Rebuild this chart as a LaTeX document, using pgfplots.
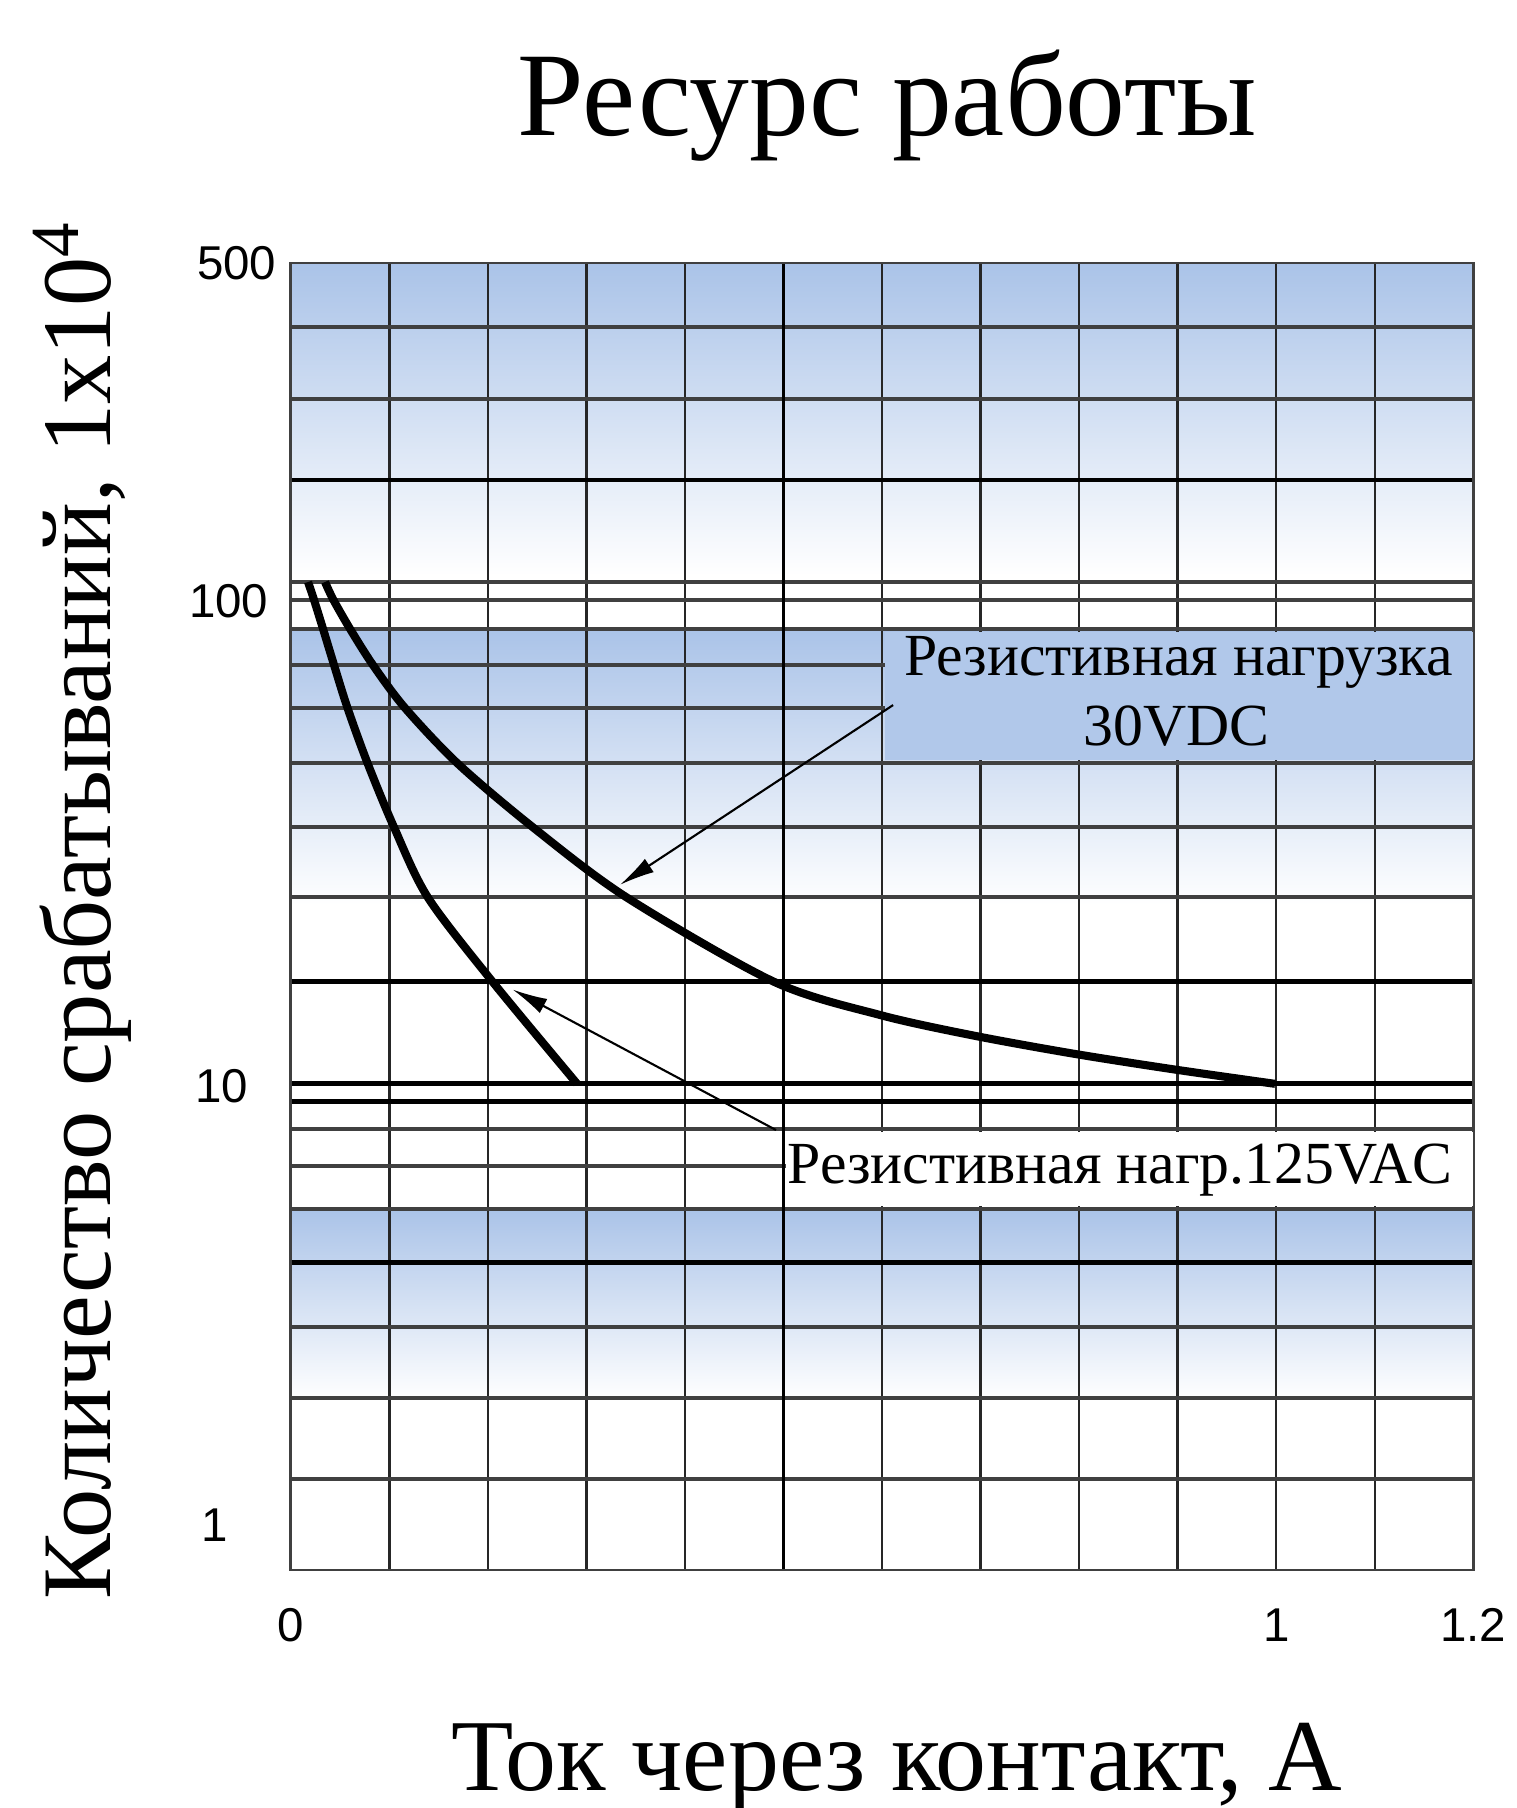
\documentclass[border=0pt]{standalone}
\usepackage{fontspec}
\setmainfont{Liberation Serif}
\newfontfamily\tickfont{Liberation Sans}
\usepackage{pgfplots}
\pgfplotsset{compat=1.18}
\usetikzlibrary{arrows.meta}
\definecolor{bandblue}{RGB}{170,195,232}

\begin{document}
\begin{tikzpicture}
\node[anchor=base, font=\fontsize{34}{40}\selectfont] at (8.87,16.72) {Ресурс работы};
\node[anchor=base, font=\fontsize{29}{34}\selectfont] at (8.965,0.18) {Ток через контакт, А};
\node[anchor=base, rotate=90, font=\fontsize{28}{33}\selectfont] at (1.10,8.98) {Количество срабатываний, 1x10\textsuperscript{4}};

\begin{axis}[
  set layers,
  at={(2.908cm,2.38cm)}, anchor=south west,
  width=11.825cm, height=13.07cm, scale only axis,
  xmin=0, xmax=1.2,
  ymode=log, ymin=1, ymax=500,
  xtick={0,1,1.2}, xticklabels={0,1,1.2},
  minor xtick={0.1,0.2,0.3,0.4,0.6,0.7,0.8,0.9,1.0,1.1},
  extra x ticks={0.5}, extra x tick labels={},
  extra x tick style={xmajorgrids=true, major grid style={black, line width=1.1pt}},
  ytick={1,10,100,500}, yticklabels={1,10,100,500},
  minor ytick={368.8,262,178.2,109.7,100.7,87.8,73.9,60.3,46.4,34.2,24.5,16.4,10.1,9.26,8.14,6.83,5.57,4.31,3.18,2.27,1.54},
  extra y ticks={178.2,16.4,10.1,9.26,4.31}, extra y tick labels={},
  extra y tick style={ymajorgrids=true, major grid style={black, line width=1.4pt}},
  xmajorgrids=false, ymajorgrids=false,
  xminorgrids=true, yminorgrids=true,
  minor x grid style={black!85, line width=0.7pt},
  minor y grid style={black!75, line width=1.1pt},
  major tick length=0pt, minor tick length=0pt,
  axis line style={black!75, line width=0.8pt},
  tick label style={font=\tickfont\fontsize{13.5}{15}\selectfont},
  /pgf/number format/assume math mode=true,
  xticklabel style={anchor=center, yshift=-0.55cm},
  yticklabel style={anchor=center,
    /utils/exec={\edef\myxs{\ifcase\ticknum -0.76cm\or -0.69cm\or -0.62cm\else -0.54cm\fi}%
                 \edef\myys{\ifcase\ticknum 0.45cm\or 0.24cm\or 0.27cm\else 0cm\fi}},
    xshift=\myxs, yshift=\myys},
]
% background bands
\addplot[draw=none, top color=bandblue, bottom color=white, on layer=axis background, forget plot]
  coordinates {(0,500) (1.2,500) (1.2,113) (0,113)};
\addplot[draw=none, top color=bandblue, bottom color=white, on layer=axis background, forget plot]
  coordinates {(0,87.8) (1.2,87.8) (1.2,23.6) (0,23.6)};
\addplot[draw=none, top color=bandblue, bottom color=white, on layer=axis background, forget plot]
  coordinates {(0,5.57) (1.2,5.57) (1.2,2.25) (0,2.25)};

% Резистивная нагр. 125VAC
\addplot[smooth, black, line width=2.3pt] coordinates {
(0.0175,109.7) (0.0236,100.7) (0.0327,87.8) (0.0439,73.9) (0.0575,60.3)
(0.0778,46.4) (0.1047,34.2) (0.139,24.5) (0.2047,16.4) (0.2904,10.1)};
% Резистивная нагрузка 30VDC
\addplot[smooth, black, line width=2.3pt] coordinates {
(0.0347,109.7) (0.0433,100.7) (0.0601,87.8) (0.0834,73.9) (0.1158,60.3)
(0.1697,46.2) (0.2455,34.2) (0.3406,24.5) (0.4902,16.4) (0.5979,14.0)
(0.6923,12.7) (0.7927,11.66) (0.8932,10.83) (0.9988,10.09)};

\fill[bandblue!92!white] (axis cs:0.603,86.6) rectangle (axis cs:1.2,47.1);
\fill[white] (axis cs:0.503,8.02) rectangle (axis cs:1.2,5.65);

\node[font=\fontsize{17}{20}\selectfont] at (axis cs:0.901,74.7) {Резистивная нагрузка};
\node[font=\fontsize{17}{20}\selectfont] at (axis cs:0.899,55.3) {30VDC};
\node[font=\fontsize{17}{20}\selectfont] at (axis cs:0.8415,6.70) {Резистивная нагр.125VAC};

\draw[line width=0.6pt, -{Latex[length=3.5mm,width=1.6mm]}] (axis cs:0.6112,61.1) -- (axis cs:0.3341,26.0);
\draw[line width=0.6pt, -{Latex[length=3.5mm,width=1.6mm]}] (axis cs:0.4924,8.10) -- (axis cs:0.2251,15.8);
\end{axis}
\pgfresetboundingbox
\useasboundingbox (0,0) rectangle (15.16,18.08);
\end{tikzpicture}
\end{document}
